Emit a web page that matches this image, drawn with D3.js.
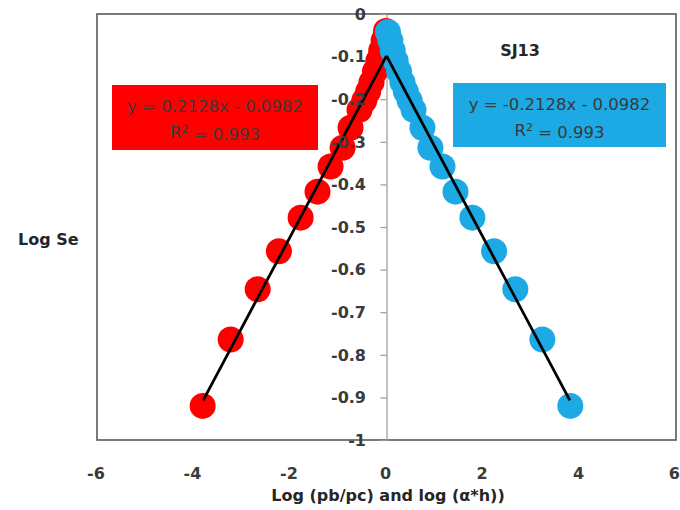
<!DOCTYPE html>
<html>
<head>
<meta charset="utf-8">
<script src="https://cdn.jsdelivr.net/npm/d3@7"></script>
<style>
  html, body { margin: 0; padding: 0; background: #fff; }
  svg { display: block; }
</style>
</head>
<body>
<svg id="chart" width="680" height="510"></svg>
<script>
// Log suction ratio / log(alpha*h) vs log effective saturation, sample SJ13
const blueX = [0.03, 0.08, 0.13, 0.19, 0.26, 0.33, 0.40, 0.48, 0.56, 0.745, 0.91, 1.16, 1.43, 1.78, 2.23, 2.67, 3.23, 3.81];
const blueY = [-0.042, -0.062, -0.086, -0.11, -0.135, -0.16, -0.182, -0.203, -0.225, -0.267, -0.314, -0.358, -0.417, -0.478, -0.557, -0.646, -0.764, -0.92];
const redX = [-0.01, -0.06, -0.11, -0.17, -0.24, -0.31, -0.38, -0.46, -0.56, -0.745, -0.91, -1.16, -1.43, -1.78, -2.23, -2.67, -3.23, -3.81];
const redY = [-0.04, -0.062, -0.086, -0.11, -0.135, -0.16, -0.182, -0.203, -0.225, -0.267, -0.314, -0.358, -0.417, -0.478, -0.557, -0.646, -0.764, -0.92];

// linear fits: y = slope * x + intercept
const redFit = { slope: 0.2128, intercept: -0.0982, r2: 0.993, x0: -3.8, x1: 0 };
const blueFit = { slope: -0.2128, intercept: -0.0982, r2: 0.993, x0: 0, x1: 3.8 };

const xTicks = [-6, -4, -2, 0, 2, 4, 6];
const yTicks = [0, -0.1, -0.2, -0.3, -0.4, -0.5, -0.6, -0.7, -0.8, -0.9, -1];

const svg = d3.select("#chart");
const plot = { left: 97, right: 676, top: 14, bottom: 440 };

const x = d3.scaleLinear().domain([-6, 6]).range([plot.left, plot.right]);
const y = d3.scaleLinear().domain([-1, 0]).range([plot.bottom, plot.top]);

const RED = "#ff0000", BLUE = "#1ca9e4";
const FONT = "'DejaVu Sans', Verdana, sans-serif";

// plot frame
svg.append("rect")
  .attr("x", plot.left).attr("y", plot.top)
  .attr("width", plot.right - plot.left).attr("height", plot.bottom - plot.top)
  .attr("fill", "none").attr("stroke", "#595959").attr("stroke-width", 1.6);

// vertical axis through x = 0
const yAxis = d3.axisLeft(y).tickValues(yTicks).tickSize(6).tickFormat("");
const yg = svg.append("g").attr("transform", `translate(${x(0)},0)`).call(yAxis);
yg.select(".domain").attr("stroke", "#9a9a9a").attr("stroke-width", 1.2);
yg.selectAll(".tick line").attr("stroke", "#9a9a9a").attr("stroke-width", 1.2);

// scatter points
function dots(xs, ys, color) {
  svg.append("g").selectAll("circle")
    .data(xs.map((v, i) => [v, ys[i]]))
    .join("circle")
    .attr("cx", d => x(d[0]))
    .attr("cy", d => y(d[1]))
    .attr("r", 13)
    .attr("fill", color);
}
dots(redX, redY, RED);
dots(blueX, blueY, BLUE);

// trend lines
[redFit, blueFit].forEach(f => {
  svg.append("line")
    .attr("x1", x(f.x0)).attr("y1", y(f.slope * f.x0 + f.intercept))
    .attr("x2", x(f.x1)).attr("y2", y(f.slope * f.x1 + f.intercept))
    .attr("stroke", "#000").attr("stroke-width", 2.8);
});

// y tick labels, left of the vertical axis (plain hyphen minus)
svg.append("g").selectAll("text")
  .data(yTicks)
  .join("text")
  .attr("x", 366)
  .attr("y", d => y(d))
  .attr("dy", "0.36em")
  .attr("text-anchor", "end")
  .attr("font-family", FONT).attr("font-weight", "bold").attr("font-size", 16)
  .attr("fill", "#3b3b3b")
  .text(d => String(d));

// x tick labels below the frame; the last one is kept inside the page edge
svg.append("g").selectAll("text")
  .data(xTicks)
  .join("text")
  .attr("x", (d, i) => i === xTicks.length - 1 ? 680 : x(d) - 1)
  .attr("y", 473)
  .attr("dy", "0.36em")
  .attr("text-anchor", (d, i) => i === xTicks.length - 1 ? "end" : "middle")
  .attr("font-family", FONT).attr("font-weight", "bold").attr("font-size", 16)
  .attr("fill", "#3b3b3b")
  .text(d => String(d));

// axis titles
svg.append("text")
  .attr("x", 388).attr("y", 495).attr("dy", "0.36em")
  .attr("text-anchor", "middle")
  .attr("font-family", FONT).attr("font-weight", "bold").attr("font-size", 16)
  .attr("fill", "#262626")
  .text("Log (pb/pc) and log (α*h))");

svg.append("text")
  .attr("x", 18).attr("y", 239).attr("dy", "0.36em")
  .attr("font-family", FONT).attr("font-weight", "bold").attr("font-size", 16)
  .attr("fill", "#1f2633")
  .text("Log Se");

svg.append("text")
  .attr("x", 520).attr("y", 50).attr("dy", "0.36em")
  .attr("text-anchor", "middle")
  .attr("font-family", FONT).attr("font-weight", "bold").attr("font-size", 16)
  .attr("fill", "#262626")
  .text("SJ13");

// equation labels
function eqBox(f, bx, by, bw, bh, color) {
  const g = svg.append("g");
  g.append("rect").attr("x", bx).attr("y", by).attr("width", bw).attr("height", bh).attr("fill", color);
  const sign = f.intercept < 0 ? " - " : " + ";
  const cx = bx + bw / 2;
  g.append("text")
    .attr("x", cx).attr("y", by + 21).attr("dy", "0.36em")
    .attr("text-anchor", "middle")
    .attr("font-family", FONT).attr("font-size", 16.5).attr("fill", "#3a3a3a")
    .text(`y = ${f.slope.toFixed(4)}x${sign}${Math.abs(f.intercept).toFixed(4)}`);
  const t = g.append("text")
    .attr("x", cx).attr("y", by + 47).attr("dy", "0.36em")
    .attr("text-anchor", "middle")
    .attr("font-family", FONT).attr("font-size", 16.5).attr("fill", "#3a3a3a");
  t.append("tspan").text("R");
  t.append("tspan").attr("dy", "-0.45em").attr("font-size", 11).text("2");
  t.append("tspan").attr("dy", "0.45em").text(` = ${f.r2}`);
}
eqBox(redFit, 112, 85, 206, 65, RED);
eqBox(blueFit, 453, 83, 213, 64, BLUE);
</script>
</body>
</html>
